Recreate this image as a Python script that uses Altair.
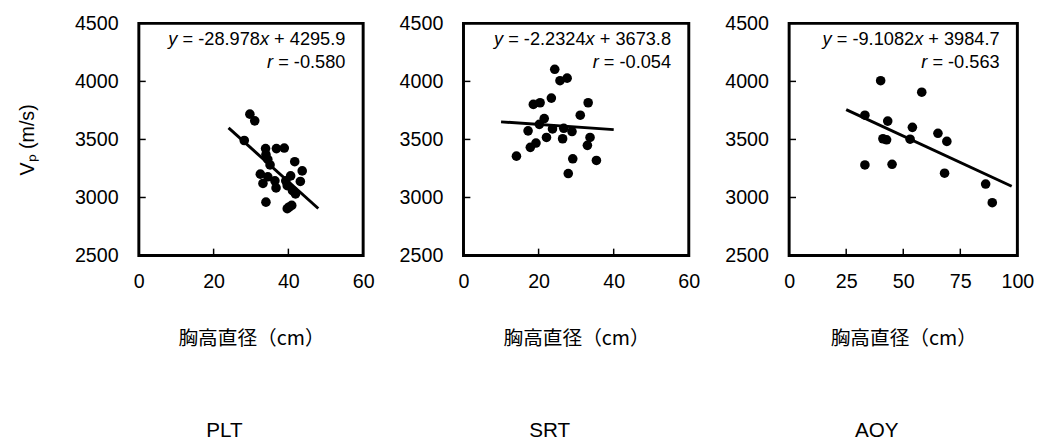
import altair as alt
import pandas as pd

FONT = "Liberation Sans"
CJK_FONT = "Noto Sans CJK JP"

panel_names = ["PLT", "SRT", "AOY"]
x_title = "胸高直径（cm）"
y_title = "Vₚ (m/s)"

# ---- data ----
plt_dbh = [29.7, 31.0, 28.2, 33.9, 36.8, 38.9, 34.0, 34.5, 35.1, 41.7, 43.7, 32.5, 34.5,
           33.2, 36.4, 36.7, 39.3, 40.6, 39.7, 41.1, 41.9, 43.2, 34.0, 40.2, 40.9, 39.7]
plt_vp = [3718, 3660, 3491, 3421, 3421, 3426, 3370, 3328, 3280, 3308, 3229, 3201, 3178,
          3121, 3144, 3082, 3144, 3186, 3102, 3059, 3031, 3138, 2960, 2918, 2932, 2904]

srt_dbh = [24.3, 25.7, 27.6, 18.6, 20.4, 23.4, 33.2, 31.1, 21.5, 20.2, 17.2, 23.7,
           26.7, 28.9, 22.1, 26.4, 33.7, 19.3, 17.8, 33.0, 14.1, 29.1, 35.4, 27.9]
srt_vp = [4104, 4006, 4028, 3802, 3816, 3856, 3816, 3709, 3680, 3630, 3574, 3591,
          3596, 3568, 3517, 3506, 3517, 3469, 3432, 3449, 3356, 3333, 3319, 3206]

aoy_dbh = [40.1, 58.1, 33.2, 43.2, 54.0, 65.2, 69.1, 41.1, 42.7, 53.0, 33.2, 45.1, 68.1, 86.1, 89.0]
aoy_vp = [4006, 3907, 3709, 3658, 3604, 3553, 3483, 3506, 3497, 3502, 3280, 3286, 3209, 3116, 2955]

slopes = [-28.978, -2.2324, -9.1082]
intercepts = [4295.9, 3673.8, 3984.7]
slope_labels = ["-28.978", "-2.2324", "-9.1082"]
intercept_labels = ["4295.9", "3673.8", "3984.7"]
r_labels = ["-0.580", "-0.054", "-0.563"]
fit_ranges = [[24, 48], [10, 40], [25, 97.5]]

x_domains = [[0, 60], [0, 60], [0, 100]]
x_ticks = [[0, 20, 40, 60], [0, 20, 40, 60], [0, 25, 50, 75, 100]]
y_domain = [2500, 4500]
y_ticks = [2500, 3000, 3500, 4000, 4500]

dbh = [plt_dbh, srt_dbh, aoy_dbh]
vp = [plt_vp, srt_vp, aoy_vp]

# ---- style ----
WIDTHS = [228, 229, 232]
H = 236
TICK_LEN = 7
EQ_SIZE = 18.5

# Arial/Liberation advance widths (per 1000 em) for laying out mixed italic text
AW = {**{d: 556 for d in "0123456789"}, " ": 278, "=": 584, "+": 584,
      "-": 333, ".": 278, "x": 500, "y": 500, "r": 333}


def tw(s, size):
    return sum(AW[c] for c in s) * size / 1000.0


def text_segments(tokens, right, baseline, size):
    total = sum(tw(t, size) for t, _ in tokens)
    cur = right - total
    layers = []
    for t, italic in tokens:
        stripped = t.lstrip(" ")
        lead = tw(t[: len(t) - len(stripped)], size)
        layers.append(
            alt.Chart(pd.DataFrame({"t": [stripped]}))
            .mark_text(align="left", baseline="alphabetic", fontSize=size, font=FONT,
                       fontStyle="italic" if italic else "normal", color="black")
            .encode(x=alt.value(cur + lead), y=alt.value(baseline), text="t:N")
        )
        cur += tw(t, size)
    return layers


def panel(i):
    W = WIDTHS[i]
    xsc = alt.Scale(domain=x_domains[i], nice=False, zero=False)
    ysc = alt.Scale(domain=y_domain, nice=False, zero=False)

    xaxis = alt.Axis(values=x_ticks[i], ticks=False, domain=False, grid=False,
                     labelPadding=16, labelFont=FONT, labelFontSize=20, labelColor="black",
                     format="d", title=x_title, titleFont=CJK_FONT,
                     titleFontSize=20, titlePadding=38, titleFontWeight="normal",
                     titleColor="black", labelFlush=False)
    yargs = dict(values=y_ticks, ticks=False, domain=False, grid=False,
                 labelPadding=21, labelFlush=False, labelFont=FONT, labelFontSize=20,
                 labelColor="black", format="d")
    if i == 0:
        yargs.update(title=y_title, titlePadding=38, titleFont=FONT, titleFontSize=20,
                     titleFontWeight="normal", titleColor="black")
    else:
        yargs.update(title="")
    yaxis = alt.Axis(**yargs)

    pts = pd.DataFrame({"x": dbh[i], "y": vp[i]})
    fx = fit_ranges[i]
    fit = pd.DataFrame({"x": fx, "y": [slopes[i] * v + intercepts[i] for v in fx]})

    points = alt.Chart(pts).mark_circle(size=95, color="black", opacity=1).encode(
        x=alt.X("x:Q", scale=xsc, axis=xaxis),
        y=alt.Y("y:Q", scale=ysc, axis=yaxis),
    )
    line = alt.Chart(fit).mark_line(color="black", strokeWidth=3).encode(
        x=alt.X("x:Q", scale=xsc), y=alt.Y("y:Q", scale=ysc)
    )
    xt = alt.Chart(pd.DataFrame({"x": x_ticks[i]})).mark_rule(color="black", strokeWidth=1.5).encode(
        x=alt.X("x:Q", scale=xsc), y=alt.value(H), y2=alt.value(H - TICK_LEN)
    )
    yt = alt.Chart(pd.DataFrame({"y": y_ticks})).mark_rule(color="black", strokeWidth=1.5).encode(
        y=alt.Y("y:Q", scale=ysc), x=alt.value(0), x2=alt.value(TICK_LEN)
    )

    right = W - 18
    eq1 = text_segments([("y", True), (" = " + slope_labels[i], False), ("x", True),
                         (" + " + intercept_labels[i], False)], right, 22.5, EQ_SIZE)
    eq2 = text_segments([("r", True), (" = " + r_labels[i], False)], right, 45, EQ_SIZE)

    return alt.layer(xt, yt, line, points, *eq1, *eq2).properties(
        width=W, height=H,
        title=alt.TitleParams(text=panel_names[i], orient="bottom", frame="group",
                              anchor="middle", dx=-27, offset=73, fontSize=21,
                              font=FONT, fontWeight="normal", color="black"),
    )


chart = alt.hconcat(*[panel(i) for i in range(3)], spacing=22).properties(
    padding={"left": 8, "top": 0, "right": 4, "bottom": 0},
    background="white",
).configure_view(stroke="black", strokeWidth=3)

chart.save("out.html", embed_options={"renderer": "svg", "actions": False})
